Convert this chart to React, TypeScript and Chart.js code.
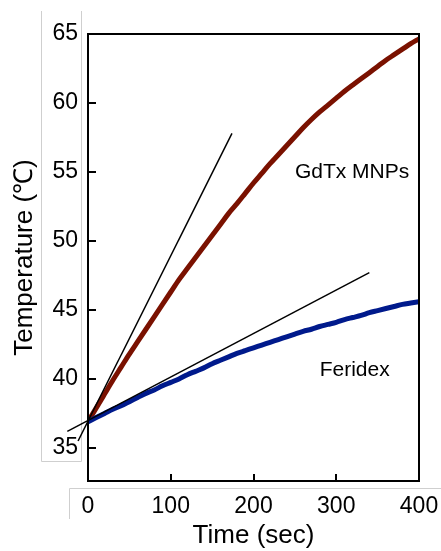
import React, { useEffect, useRef } from "react";
import { Chart, registerables } from "chart.js";

Chart.register(...registerables);

const timeSec = [0, 10, 20, 30, 40, 50, 60, 70, 80, 90, 100, 110, 120, 130, 140, 150, 160, 170, 180, 190, 200, 210, 220, 230, 240, 250, 260, 270, 280, 290, 300, 310, 320, 330, 340, 350, 360, 370, 380, 390, 400];
const gdtxTemp = [36.9, 37.9, 38.9, 39.9, 40.85, 41.8, 42.7, 43.6, 44.5, 45.4, 46.3, 47.2, 48.0, 48.8, 49.6, 50.4, 51.2, 52.0, 52.7, 53.45, 54.2, 54.9, 55.6, 56.25, 56.9, 57.55, 58.2, 58.8, 59.35, 59.85, 60.35, 60.85, 61.3, 61.75, 62.2, 62.65, 63.1, 63.5, 63.9, 64.3, 64.65];
const feridexTemp = [36.9, 37.2, 37.5, 37.8, 38.05, 38.35, 38.65, 38.95, 39.2, 39.5, 39.75, 40.0, 40.3, 40.55, 40.8, 41.1, 41.35, 41.6, 41.85, 42.05, 42.25, 42.45, 42.65, 42.85, 43.05, 43.25, 43.45, 43.6, 43.8, 43.95, 44.1, 44.3, 44.45, 44.6, 44.8, 44.95, 45.1, 45.25, 45.4, 45.5, 45.6];
const gdtxTangentX = [-12, 174];
const gdtxTangentY = [35.5, 57.8];
const feridexTangentX = [-25, 340];
const feridexTangentY = [36.2, 47.7];
const xTicks = [0, 100, 200, 300, 400];
const yTicks = [35, 40, 45, 50, 55, 60, 65];
const labels = [
  { text: "GdTx MNPs", y: 55.0 },
  { text: "Feridex", y: 40.6 },
];
const labelTimes = [250, 280];

const FONT = "'Liberation Sans', Arial, sans-serif";

const framePlugin = {
  id: "frame",
  beforeDraw(chart: any) {
    const ctx = chart.ctx;
    ctx.save();
    ctx.strokeStyle = "#cfcfcf";
    ctx.lineWidth = 1;
    ctx.beginPath();
    ctx.moveTo(41.5, 11);
    ctx.lineTo(41.5, 461.5);
    ctx.lineTo(81.5, 461.5);
    ctx.lineTo(81.5, 11);
    ctx.moveTo(69.5, 519);
    ctx.lineTo(69.5, 488.5);
    ctx.lineTo(441, 488.5);
    ctx.stroke();
    ctx.restore();
  },
  afterDatasetsDraw(chart: any) {
    const ctx = chart.ctx;
    const { left, right, top, bottom } = chart.chartArea;
    const xs = chart.scales.x;
    const ys = chart.scales.y;
    ctx.save();
    ctx.strokeStyle = "#000";
    ctx.lineWidth = 2;
    ctx.strokeRect(left, top, right - left, bottom - top);
    ctx.beginPath();
    yTicks.forEach((v) => {
      const py = Math.round(ys.getPixelForValue(v));
      ctx.moveTo(left, py);
      ctx.lineTo(left + 8, py);
    });
    xTicks.forEach((v) => {
      const px = Math.round(xs.getPixelForValue(v));
      ctx.moveTo(px, bottom);
      ctx.lineTo(px, bottom - 7);
    });
    ctx.stroke();
    ctx.fillStyle = "#000";
    ctx.font = "21px " + FONT;
    ctx.textBaseline = "middle";
    ctx.textAlign = "left";
    labels.forEach((l, i) => {
      ctx.fillText(l.text, xs.getPixelForValue(labelTimes[i]), ys.getPixelForValue(l.y));
    });
    ctx.restore();
  },
};

export default function App() {
  const ref = useRef<HTMLCanvasElement | null>(null);
  useEffect(() => {
    if (!ref.current) return;
    const toXY = (xa: number[], ya: number[]) => xa.map((x, i) => ({ x, y: ya[i] }));
    const chart = new Chart(ref.current, {
      type: "scatter",
      data: {
        datasets: [
          {
            label: "GdTx tangent",
            data: toXY(gdtxTangentX, gdtxTangentY),
            showLine: true,
            borderColor: "#000",
            borderWidth: 1.5,
            pointRadius: 0,
            clip: false as any,
          },
          {
            label: "Feridex tangent",
            data: toXY(feridexTangentX, feridexTangentY),
            showLine: true,
            borderColor: "#000",
            borderWidth: 1.5,
            pointRadius: 0,
            clip: false as any,
          },
          {
            label: "Feridex",
            data: toXY(timeSec, feridexTemp),
            showLine: true,
            borderColor: "#001a8c",
            borderWidth: 5,
            pointRadius: 0,
            cubicInterpolationMode: "monotone",
          },
          {
            label: "GdTx MNPs",
            data: toXY(timeSec, gdtxTemp),
            showLine: true,
            borderColor: "#7a1100",
            borderWidth: 5,
            pointRadius: 0,
            cubicInterpolationMode: "monotone",
          },
        ],
      },
      options: {
        animation: false,
        responsive: false,
        maintainAspectRatio: false,
        layout: { padding: { top: 34, right: 22, left: 0, bottom: 0 } },
        plugins: { legend: { display: false }, tooltip: { enabled: false } },
        scales: {
          x: {
            type: "linear",
            min: 0,
            max: 400,
            grid: { display: false, drawTicks: false },
            border: { display: false },
            afterBuildTicks: (s: any) => {
              s.ticks = xTicks.map((v) => ({ value: v }));
            },
            afterFit: (s: any) => {
              s.height = 70;
              s.paddingLeft = 0;
              s.paddingRight = 0;
            },
            ticks: {
              color: "#000",
              padding: 12,
              maxRotation: 0,
              font: { size: 23, family: FONT },
            },
            title: {
              display: true,
              text: "Time (sec)",
              color: "#000",
              font: { size: 26, family: FONT },
              padding: { top: 0, bottom: 0 },
            },
          },
          y: {
            type: "linear",
            min: 32.6,
            max: 65,
            grid: { display: false, drawTicks: false },
            border: { display: false },
            afterBuildTicks: (s: any) => {
              s.ticks = yTicks.map((v) => ({ value: v }));
            },
            afterFit: (s: any) => {
              s.width = 88;
            },
            ticks: {
              color: "#000",
              padding: 10,
              font: { size: 23, family: FONT },
            },
            title: {
              display: true,
              text: "Temperature (℃)",
              color: "#000",
              font: { size: 26, family: FONT },
              padding: { top: 9, bottom: 0 },
            },
          },
        },
      },
      plugins: [framePlugin],
    });
    return () => chart.destroy();
  }, []);
  return (
    <div style={{ position: "absolute", left: 0, top: 0, width: 441, height: 551, background: "#fff" }}>
      <canvas ref={ref} width={441} height={551} style={{ width: 441, height: 551 }} />
    </div>
  );
}
